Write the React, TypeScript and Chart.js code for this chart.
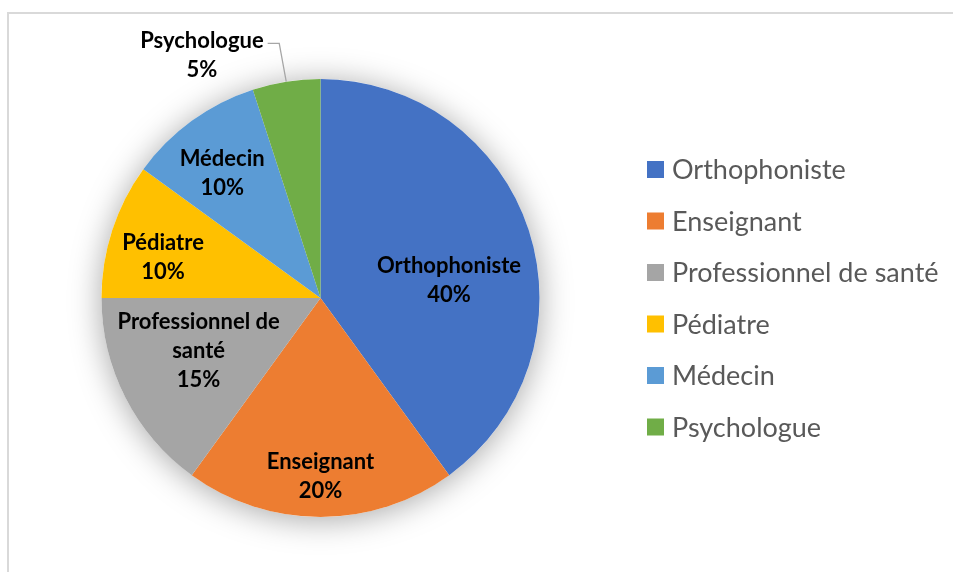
import React, { useEffect, useRef } from "react";
import { Chart, registerables } from "chart.js";

Chart.register(...registerables);

const categories = ["Orthophoniste", "Enseignant", "Professionnel de santé", "Pédiatre", "Médecin", "Psychologue"];
const values = [40, 20, 15, 10, 10, 5];
const labelLines = [["Orthophoniste"], ["Enseignant"], ["Professionnel de", "santé"], ["Pédiatre"], ["Médecin"], ["Psychologue"]];
const colors = ["#4472C4", "#ED7D31", "#A5A5A5", "#FFC000", "#5B9BD5", "#70AD47"];

// label placement styling: angle offset (deg) from slice middle, radius factor
const labelPlace = [
  { off: 10.2, f: 0.592 },
  { off: 0, f: 0.815 },
  { off: 3.5, f: 0.607 },
  { off: -3.4, f: 0.743 },
  { off: -2.2, f: 0.726 },
  { off: -17, f: 1.235 },
];

const LABEL_FONT = "bold 22px Lato";
const LEGEND_FONT = "27px Lato";
const LINE_H = 29;

const shadowPlugin = {
  id: "pieShadow",
  beforeDatasetsDraw(chart: any) {
    const meta = chart.getDatasetMeta(0);
    const arc = meta.data[0];
    if (!arc) return;
    const ctx = chart.ctx;
    ctx.save();
    ctx.shadowColor = "rgba(0,0,0,0.35)";
    ctx.shadowBlur = 32;
    ctx.shadowOffsetY = 3;
    ctx.fillStyle = "#ffffff";
    ctx.beginPath();
    ctx.arc(arc.x, arc.y, arc.outerRadius, 0, Math.PI * 2);
    ctx.fill();
    ctx.restore();
  },
};

const labelPlugin = {
  id: "pieLabels",
  afterDatasetsDraw(chart: any) {
    const meta = chart.getDatasetMeta(0);
    const ds = chart.data.datasets[0].data as number[];
    const total = ds.reduce((a, b) => a + b, 0);
    const ctx = chart.ctx;
    ctx.save();
    ctx.font = LABEL_FONT;
    ctx.textAlign = "center";
    ctx.textBaseline = "middle";
    meta.data.forEach((arc: any, i: number) => {
      const mid = (arc.startAngle + arc.endAngle) / 2;
      const p = labelPlace[i];
      const a = mid + (p.off * Math.PI) / 180;
      const r = arc.outerRadius * p.f;
      const cx = arc.x + Math.cos(a) * r;
      const cy = arc.y + Math.sin(a) * r;
      const lines = [...labelLines[i], Math.round((ds[i] / total) * 100) + "%"];
      const top = cy - ((lines.length - 1) * LINE_H) / 2;
      if (p.f > 1) {
        // leader line
        const w = ctx.measureText(lines[0]).width;
        const sx = cx + w / 2 + 4;
        const sy = top + 3;
        const ex = arc.x + Math.cos(mid) * arc.outerRadius;
        const ey = arc.y + Math.sin(mid) * arc.outerRadius;
        ctx.strokeStyle = "#A6A6A6";
        ctx.lineWidth = 1.3;
        ctx.beginPath();
        ctx.moveTo(sx, sy);
        ctx.lineTo(ex - 7, sy);
        ctx.lineTo(ex, ey);
        ctx.stroke();
      }
      ctx.fillStyle = "#000000";
      lines.forEach((t, k) => ctx.fillText(t, cx, top + k * LINE_H));
    });
    ctx.restore();
  },
};

const legendPlugin = {
  id: "customLegend",
  afterDraw(chart: any) {
    const ctx = chart.ctx;
    const labels = chart.data.labels as string[];
    const bg = chart.data.datasets[0].backgroundColor as string[];
    ctx.save();
    ctx.font = LEGEND_FONT;
    ctx.textAlign = "left";
    ctx.textBaseline = "middle";
    labels.forEach((l, i) => {
      const y = 169.5 + i * 51.5;
      ctx.fillStyle = bg[i];
      ctx.fillRect(647, y - 8.5, 17, 17);
      ctx.fillStyle = "#595959";
      ctx.fillText(l, 672, y + 1);
    });
    ctx.restore();
  },
};

export default function App() {
  const ref = useRef<HTMLCanvasElement>(null);
  useEffect(() => {
    if (!ref.current) return;
    const chart = new Chart(ref.current, {
      type: "pie",
      data: {
        labels: categories,
        datasets: [
          {
            data: values,
            backgroundColor: colors,
            borderWidth: 0,
            hoverOffset: 0,
          },
        ],
      },
      options: {
        responsive: false,
        animation: false,
        devicePixelRatio: 1,
        layout: { padding: { left: 101.5, right: 413.5, top: 79, bottom: 55 } },
        plugins: {
          legend: { display: false },
          tooltip: { enabled: false },
        },
      },
      plugins: [shadowPlugin, labelPlugin, legendPlugin],
    });
    return () => chart.destroy();
  }, []);
  return (
    <div style={{ position: "fixed", left: 0, top: 0, width: 953, height: 572, background: "#fff", overflow: "hidden" }}>
      <div
        style={{
          position: "absolute",
          left: 7,
          top: 12,
          width: 1000,
          height: 700,
          borderTop: "2px solid #D9D9D9",
          borderLeft: "2px solid #D9D9D9",
        }}
      />
      <canvas ref={ref} width={953} height={572} style={{ position: "absolute", left: 0, top: 0 }} />
    </div>
  );
}
